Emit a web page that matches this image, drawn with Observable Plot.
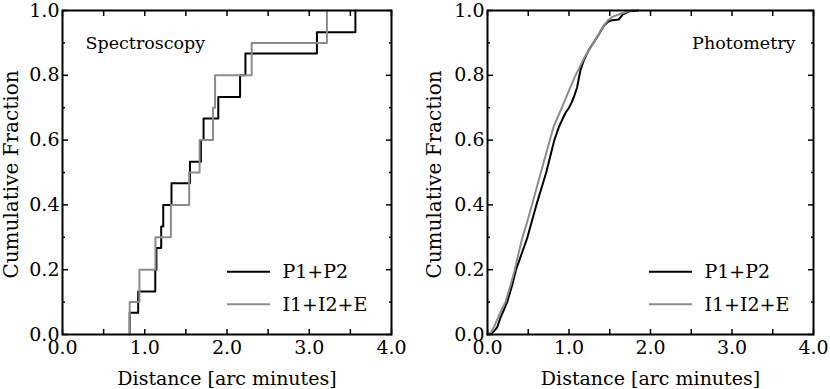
<!DOCTYPE html>
<html>
<head>
<meta charset="utf-8">
<script src="https://cdn.jsdelivr.net/npm/d3@7"></script>
<script src="https://cdn.jsdelivr.net/npm/@observablehq/plot@0.6"></script>
<style>
  html, body { margin: 0; padding: 0; background: #fff; }
  #chart { display: flex; width: 830px; height: 389px; }
</style>
</head>
<body>
<div id="chart"></div>
<script>
// ---------- data ----------
const seriesNames = ["P1+P2", "I1+I2+E"];
const seriesColors = ["#000000", "#8c8c8c"];
const panelTitles = ["Spectroscopy", "Photometry"];
const xLabel = "Distance [arc minutes]";
const yLabel = "Cumulative Fraction";

const xTickMarks = [0, 0.5, 1, 1.5, 2, 2.5, 3, 3.5, 4];
const xTickLabels = [0, 1, 2, 3, 4];
const yMajorTicks = [0, 0.2, 0.4, 0.6, 0.8, 1.0];
const yMinorTicks = [0.1, 0.3, 0.5, 0.7, 0.9];

// Spectroscopy: step positions (distance) and cumulative fraction after each step
const specP1P2Dist = [0.817, 0.92, 1.128, 1.142, 1.20, 1.225, 1.325, 1.55, 1.683, 1.715, 1.894, 2.159, 2.224, 3.093, 3.561];
const specP1P2Frac = [0.067, 0.133, 0.2, 0.267, 0.333, 0.4, 0.467, 0.533, 0.6, 0.667, 0.733, 0.8, 0.867, 0.933, 1.0];
const specI1I2EDist = [0.817, 0.935, 1.13, 1.318, 1.54, 1.667, 1.83, 1.855, 2.30, 3.215];
const specI1I2EFrac = [0.1, 0.2, 0.3, 0.4, 0.5, 0.6, 0.7, 0.8, 0.9, 1.0];

// Photometry: cumulative curves
const photP1P2Dist = [0, 0.04, 0.08, 0.12, 0.16, 0.20, 0.24, 0.30, 0.35, 0.42, 0.49, 0.545, 0.60, 0.66, 0.72, 0.77, 0.82, 0.875, 0.92, 0.96, 1.0, 1.03, 1.06, 1.10, 1.12, 1.14, 1.18, 1.24, 1.30, 1.37, 1.43, 1.48, 1.51, 1.56, 1.61, 1.66, 1.75, 1.85];
const photP1P2Frac = [0, 0.003, 0.01, 0.023, 0.053, 0.075, 0.10, 0.15, 0.20, 0.25, 0.30, 0.35, 0.40, 0.45, 0.50, 0.55, 0.60, 0.64, 0.665, 0.685, 0.70, 0.715, 0.733, 0.763, 0.79, 0.815, 0.845, 0.877, 0.90, 0.928, 0.954, 0.965, 0.969, 0.971, 0.972, 0.988, 0.998, 1.0];
const photI1I2EDist = [0, 0.04, 0.08, 0.13, 0.17, 0.22, 0.28, 0.335, 0.38, 0.43, 0.49, 0.545, 0.60, 0.655, 0.71, 0.765, 0.81, 0.86, 0.92, 0.97, 1.02, 1.08, 1.14, 1.19, 1.24, 1.30, 1.366, 1.427, 1.48, 1.53, 1.58, 1.63, 1.70, 1.78];
const photI1I2EFrac = [0, 0.005, 0.023, 0.053, 0.075, 0.10, 0.15, 0.20, 0.25, 0.30, 0.35, 0.40, 0.45, 0.50, 0.55, 0.60, 0.64, 0.67, 0.705, 0.735, 0.765, 0.80, 0.83, 0.855, 0.877, 0.90, 0.928, 0.954, 0.97, 0.98, 0.985, 0.99, 0.995, 1.0];

// ---------- helpers ----------
function toSteps(dist, frac) {
  const pts = [{x: dist[0], y: 0}];
  dist.forEach((d, i) => pts.push({x: d, y: frac[i]}));
  return pts;
}
function toPoints(dist, frac) {
  return dist.map((d, i) => ({x: d, y: frac[i]}));
}

const FONT = "DejaVu Serif";

function panel({series, curve, title, titleRight, marginLeft, marginRight, yLabelOffset}) {
  const fmt = d3.format(".1f");
  const legendMark = (index, scales, values, dims) => {
    const g = d3.create("svg:g");
    const right = dims.width - dims.marginRight;
    const bottom = dims.height - dims.marginBottom;
    const offs = [-62.3, -29.7];
    seriesNames.forEach((name, i) => {
      g.append("line")
        .attr("x1", right - 164).attr("x2", right - 121)
        .attr("y1", bottom + offs[i]).attr("y2", bottom + offs[i])
        .attr("stroke", seriesColors[i]).attr("stroke-width", 2);
      g.append("text")
        .attr("x", right - 108.5).attr("y", bottom + offs[i])
        .attr("dy", "0.35em")
        .attr("text-anchor", "start")
        .attr("font-size", 19)
        .attr("font-family", FONT)
        .attr("fill", "#000")
        .text(name);
    });
    return g.node();
  };
  return Plot.plot({
    width: 415,
    height: 389,
    marginTop: 10,
    marginBottom: 55,
    marginLeft,
    marginRight,
    x: {domain: [0, 4]},
    y: {domain: [0, 1]},
    style: {fontFamily: FONT, fontSize: "19px", color: "#000", background: "#fff", overflow: "visible"},
    marks: [
      ...series.map(s => Plot.line(s.points, {x: "x", y: "y", stroke: s.color, strokeWidth: 2, curve})),
      // inward ticks
      Plot.axisX({anchor: "bottom", ticks: xTickMarks, tickSize: 5, dy: -5, tickFormat: () => "", label: null, strokeWidth: 1.5}),
      Plot.axisX({anchor: "top", ticks: xTickMarks, tickSize: 5, dy: 5, tickFormat: () => "", label: null, strokeWidth: 1.5}),
      Plot.axisY({anchor: "left", ticks: yMajorTicks, tickSize: 6, dx: 6, tickFormat: () => "", label: null, strokeWidth: 1.5}),
      Plot.axisY({anchor: "right", ticks: yMajorTicks, tickSize: 6, dx: -6, tickFormat: () => "", label: null, strokeWidth: 1.5}),
      Plot.axisY({anchor: "left", ticks: yMinorTicks, tickSize: 3, dx: 3, tickFormat: () => "", label: null, strokeWidth: 1.5}),
      Plot.axisY({anchor: "right", ticks: yMinorTicks, tickSize: 3, dx: -3, tickFormat: () => "", label: null, strokeWidth: 1.5}),
      // tick labels + axis labels
      Plot.axisX({anchor: "bottom", ticks: xTickLabels, tickSize: 0, tickPadding: 6, tickFormat: fmt,
                  label: xLabel, labelAnchor: "center", labelOffset: 50, labelArrow: "none", fontSize: 19}),
      Plot.axisY({anchor: "left", ticks: yMajorTicks, tickSize: 0, tickPadding: 3, tickFormat: fmt,
                  label: null, fontSize: 19}),
      Plot.text([yLabel], {
        frameAnchor: "left", rotate: -90, dx: -yLabelOffset, dy: 2,
        textAnchor: "middle", lineAnchor: "top", fontSize: 20, fill: "#000"
      }),
      // panel title
      Plot.text([title], {
        frameAnchor: titleRight ? "top-right" : "top-left",
        dx: titleRight ? -18 : 23, dy: 33,
        textAnchor: titleRight ? "end" : "start", lineAnchor: "middle",
        fontSize: 17.5, fill: "#000"
      }),
      legendMark,
      Plot.frame({stroke: "#000", strokeWidth: 2})
    ]
  });
}

const left = panel({
  series: [
    {points: toSteps(specP1P2Dist, specP1P2Frac), color: seriesColors[0]},
    {points: toSteps(specI1I2EDist, specI1I2EFrac), color: seriesColors[1]}
  ],
  curve: "step-after",
  title: panelTitles[0], titleRight: false,
  marginLeft: 62, marginRight: 24, yLabelOffset: 59
});
const right = panel({
  series: [
    {points: toPoints(photP1P2Dist, photP1P2Frac), color: seriesColors[0]},
    {points: toPoints(photI1I2EDist, photI1I2EFrac), color: seriesColors[1]}
  ],
  curve: "linear",
  title: panelTitles[1], titleRight: true,
  marginLeft: 72, marginRight: 17, yLabelOffset: 61
});
document.getElementById("chart").append(left, right);
</script>
</body>
</html>
